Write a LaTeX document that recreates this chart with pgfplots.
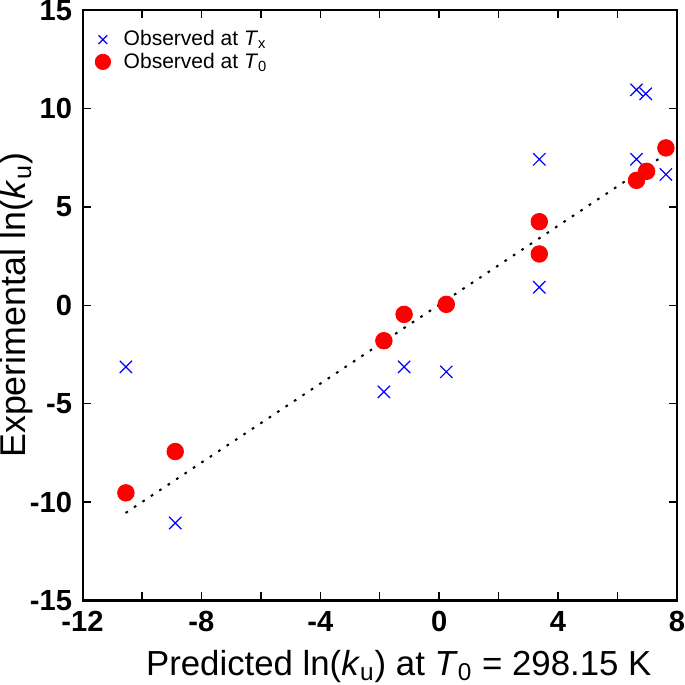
\documentclass[border=0pt]{standalone}
\usepackage{fontspec}
\setmainfont{Liberation Sans}
\usepackage{pgfplots}
\pgfplotsset{compat=1.18}
\begin{document}
\begin{tikzpicture}
\begin{axis}[
  scale only axis, width=294pt, height=292pt,
  xmin=-12, xmax=8, ymin=-15, ymax=15,
  xtick={-12,-8,...,8}, minor xtick={-10,-6,...,6},
  ytick={-15,-10,...,15},
  tick align=inside, major tick length=4pt, minor tick length=4pt,
  axis line style={line width=1pt},
  every tick/.style={black, line width=0.7pt},
  tick label style={font=\fontsize{14.4}{14.4}\selectfont\bfseries, inner sep=0pt},
  yticklabel style={xshift=-5pt},
  xticklabel style={yshift=-5pt},
  /pgf/number format/assume math mode=true,
  xlabel={Predicted ln(\textit{k}\textsubscript{u}) at \textit{T}\textsubscript{0} = 298.15 K},
  ylabel={Experimental ln(\textit{k}\textsubscript{u})},
  every axis x label/.style={at={(axis description cs:0.532,-0.1273)}, anchor=base, inner sep=0pt, font=\fontsize{17.2}{17.2}\selectfont},
  every axis y label/.style={at={(axis description cs:-0.0952,0.5)}, rotate=90, anchor=base, inner sep=0pt, font=\fontsize{17.7}{17.7}\selectfont},
  legend style={at={(0.0105,0.98)}, anchor=north west, draw=none, fill=none,
    font=\fontsize{10.4}{12}\selectfont, row sep=-2pt,
    /tikz/every odd column/.append style={column sep=4.5pt}},
  legend cell align=left,
]
\addplot[only marks, mark=x, mark size=4.3pt, blue, mark options={line width=0.6pt},
  legend image post style={mark size=3pt}] coordinates {
  (-10.54,-3.13) (-8.88,-11.06) (-1.86,-4.4) (-1.18,-3.13) (0.24,-3.38)
  (3.37,7.42) (3.37,0.92) (6.64,10.95) (6.95,10.75) (6.64,7.42) (7.63,6.65)
};
\addlegendentry{Observed at \textit{T}\textsubscript{x}}
\addplot[only marks, mark=*, mark size=4.1pt, red, mark options={draw=red, fill=red},
  legend image post style={mark size=3.8pt}] coordinates {
  (-10.54,-9.53) (-8.88,-7.43) (-1.86,-1.8) (-1.18,-0.46) (0.24,0.05)
  (3.37,4.25) (3.37,2.61) (6.64,6.35) (6.98,6.81) (7.63,8.0)
};
\addlegendentry{Observed at \textit{T}\textsubscript{0}}
\addplot[black, line width=1pt, dash pattern={on 1.3pt off 3.7pt}, forget plot] coordinates {(-10.55,-10.55) (7.5,7.55)};
\end{axis}
\path (current bounding box.south) ++(0,-1pt) coordinate (bbpad);
\path (bbpad) -- (bbpad);
\end{tikzpicture}
\end{document}
